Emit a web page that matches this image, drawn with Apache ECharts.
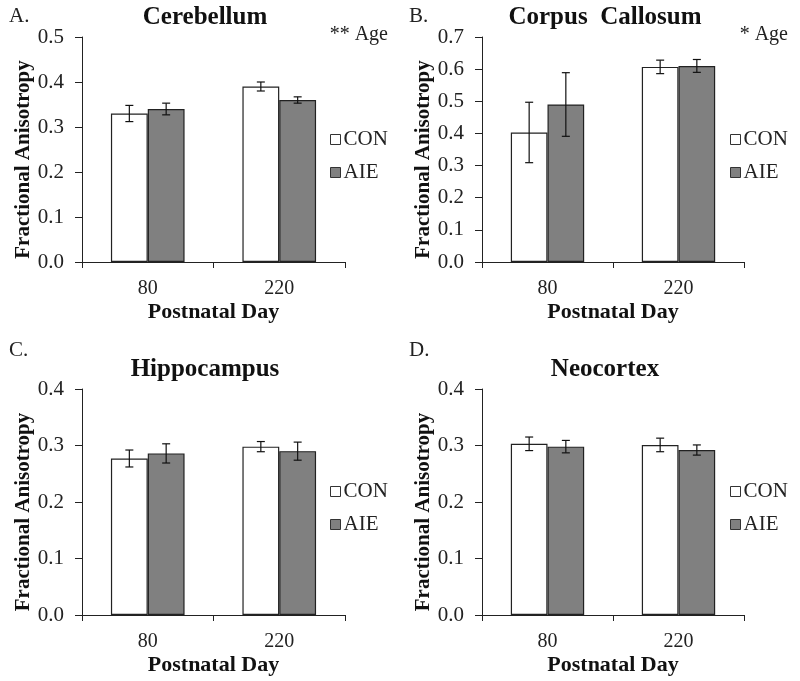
<!DOCTYPE html>
<html>
<head>
<meta charset="utf-8">
<script src="https://cdn.jsdelivr.net/npm/echarts@6/dist/echarts.min.js"></script>
<style>
  html, body { margin: 0; padding: 0; background: #fff; }
  #chart { width: 800px; height: 681px; }
</style>
</head>
<body>
<div id="chart"></div>
<script>
// data
const days = ['80', '220'];
const groups = ['CON', 'AIE'];

const cerebellumCon = [0.330, 0.390];
const cerebellumConErr = [0.018, 0.010];
const cerebellumAie = [0.340, 0.360];
const cerebellumAieErr = [0.013, 0.007];

const callosumCon = [0.403, 0.607];
const callosumConErr = [0.094, 0.021];
const callosumAie = [0.490, 0.610];
const callosumAieErr = [0.099, 0.020];

const hippocampusCon = [0.277, 0.298];
const hippocampusConErr = [0.015, 0.009];
const hippocampusAie = [0.286, 0.290];
const hippocampusAieErr = [0.017, 0.016];

const neocortexCon = [0.303, 0.301];
const neocortexConErr = [0.012, 0.012];
const neocortexAie = [0.298, 0.292];
const neocortexAieErr = [0.011, 0.009];

const panelTitles = ['Cerebellum', 'Corpus  Callosum', 'Hippocampus', 'Neocortex'];
const panelLetters = ['A.', 'B.', 'C.', 'D.'];
const panelNotes = ['** Age', '* Age', '', ''];
const yMaxes = [0.5, 0.7, 0.4, 0.4];

const panels = [
  { con: cerebellumCon, conErr: cerebellumConErr, aie: cerebellumAie, aieErr: cerebellumAieErr },
  { con: callosumCon, conErr: callosumConErr, aie: callosumAie, aieErr: callosumAieErr },
  { con: hippocampusCon, conErr: hippocampusConErr, aie: hippocampusAie, aieErr: hippocampusAieErr },
  { con: neocortexCon, conErr: neocortexConErr, aie: neocortexAie, aieErr: neocortexAieErr }
];

const FONT = 'Liberation Serif';
const CAT_GAP = 0.44; // barCategoryGap

// layout of the four panels
const gridPos = [
  { left: 82, top: 37, width: 263, height: 225 },
  { left: 482, top: 37, width: 262, height: 225 },
  { left: 82, top: 389, width: 263, height: 226 },
  { left: 482, top: 389, width: 262, height: 226 }
];

function errorBars(i, means, errs, side) {
  return {
    type: 'custom',
    xAxisIndex: i,
    yAxisIndex: i,
    z: 10,
    silent: true,
    data: means.map(function (m, k) { return [k, m - errs[k], m + errs[k]]; }),
    encode: { x: 0, y: [1, 2] },
    renderItem: function (params, api) {
      let cat = api.value(0);
      let lo = api.coord([cat, api.value(1)]);
      let hi = api.coord([cat, api.value(2)]);
      let band = api.size([1, 0])[0];
      let x = lo[0] + side * band * (1 - CAT_GAP) / 4;
      let cap = 4;
      let st = { stroke: '#111', lineWidth: 1.2 };
      return {
        type: 'group',
        children: [
          { type: 'line', shape: { x1: x, y1: lo[1], x2: x, y2: hi[1] }, style: st },
          { type: 'line', shape: { x1: x - cap, y1: lo[1], x2: x + cap, y2: lo[1] }, style: st },
          { type: 'line', shape: { x1: x - cap, y1: hi[1], x2: x + cap, y2: hi[1] }, style: st }
        ]
      };
    }
  };
}

let grids = [], xAxes = [], yAxes = [], series = [], legends = [], graphics = [];

panels.forEach(function (p, i) {
  let g = gridPos[i];
  grids.push(Object.assign({ containLabel: false }, g));

  xAxes.push({
    type: 'category',
    gridIndex: i,
    data: days,
    boundaryGap: true,
    name: 'Postnatal Day',
    nameLocation: 'middle',
    nameGap: 39,
    nameTextStyle: { fontFamily: FONT, fontWeight: 'bold', fontSize: 22, color: '#111' },
    axisLine: { show: true, lineStyle: { color: '#222', width: 1 } },
    axisTick: { show: true, length: 6, alignWithLabel: false, lineStyle: { color: '#222' } },
    axisLabel: { fontFamily: FONT, fontSize: 20, color: '#222', margin: 17 },
    splitLine: { show: false }
  });

  yAxes.push({
    type: 'value',
    gridIndex: i,
    min: 0,
    max: yMaxes[i],
    interval: 0.1,
    name: 'Fractional Anisotropy',
    nameLocation: 'middle',
    nameGap: 48,
    nameTextStyle: { fontFamily: FONT, fontWeight: 'bold', fontSize: 21, color: '#111', padding: [0, 0, 0, -20] },
    axisLine: { show: true, lineStyle: { color: '#222', width: 1 } },
    axisTick: { show: true, length: 7, lineStyle: { color: '#222' } },
    axisLabel: {
      fontFamily: FONT, fontSize: 21, color: '#222', margin: 18,
      formatter: function (v) { return v.toFixed(1); }
    },
    splitLine: { show: false }
  });

  series.push({
    name: 'CON',
    type: 'bar',
    xAxisIndex: i,
    yAxisIndex: i,
    data: p.con,
    barGap: '0%',
    barCategoryGap: (CAT_GAP * 100) + '%',
    itemStyle: { color: '#ffffff', borderColor: '#222', borderWidth: 1.2 },
    silent: true
  });
  series.push({
    name: 'AIE',
    type: 'bar',
    xAxisIndex: i,
    yAxisIndex: i,
    data: p.aie,
    barGap: '0%',
    barCategoryGap: (CAT_GAP * 100) + '%',
    itemStyle: { color: '#808080', borderColor: '#222', borderWidth: 1.2 },
    silent: true
  });
  series.push(errorBars(i, p.con, p.conErr, -1));
  series.push(errorBars(i, p.aie, p.aieErr, 1));

  legends.push({
    data: groups,
    orient: 'vertical',
    left: g.left + 243,
    top: g.top + 87,
    itemWidth: 10,
    itemHeight: 10,
    itemGap: 12,
    icon: 'rect',
    selectedMode: false,
    itemStyle: { borderWidth: 1, borderColor: '#333' },
    textStyle: { fontFamily: FONT, fontSize: 21, color: '#222', padding: [0, 0, 0, -2] }
  });

  let col = i % 2 ? 400 : 0;
  let row = i < 2 ? 0 : 1;
  graphics.push({
    type: 'text',
    x: col + 9,
    y: row ? 350 : 16,
    style: { text: panelLetters[i], font: '21px ' + FONT, fill: '#222', textVerticalAlign: 'middle' }
  });
  graphics.push({
    type: 'text',
    x: g.left + 123,
    y: row ? 370 : 18,
    style: { text: panelTitles[i], font: 'bold 25px ' + FONT, fill: '#111', textAlign: 'center', textVerticalAlign: 'middle' }
  });
  if (panelNotes[i]) {
    graphics.push({
      type: 'text',
      x: col + 388,
      y: 35,
      style: { text: panelNotes[i], font: '20px ' + FONT, fill: '#222', textAlign: 'right', textVerticalAlign: 'middle' }
    });
  }
});

let chart = echarts.init(document.getElementById('chart'), null, { renderer: 'canvas' });
chart.setOption({
  animation: false,
  backgroundColor: '#fff',
  grid: grids,
  xAxis: xAxes,
  yAxis: yAxes,
  legend: legends,
  series: series,
  graphic: graphics
});
</script>
</body>
</html>
